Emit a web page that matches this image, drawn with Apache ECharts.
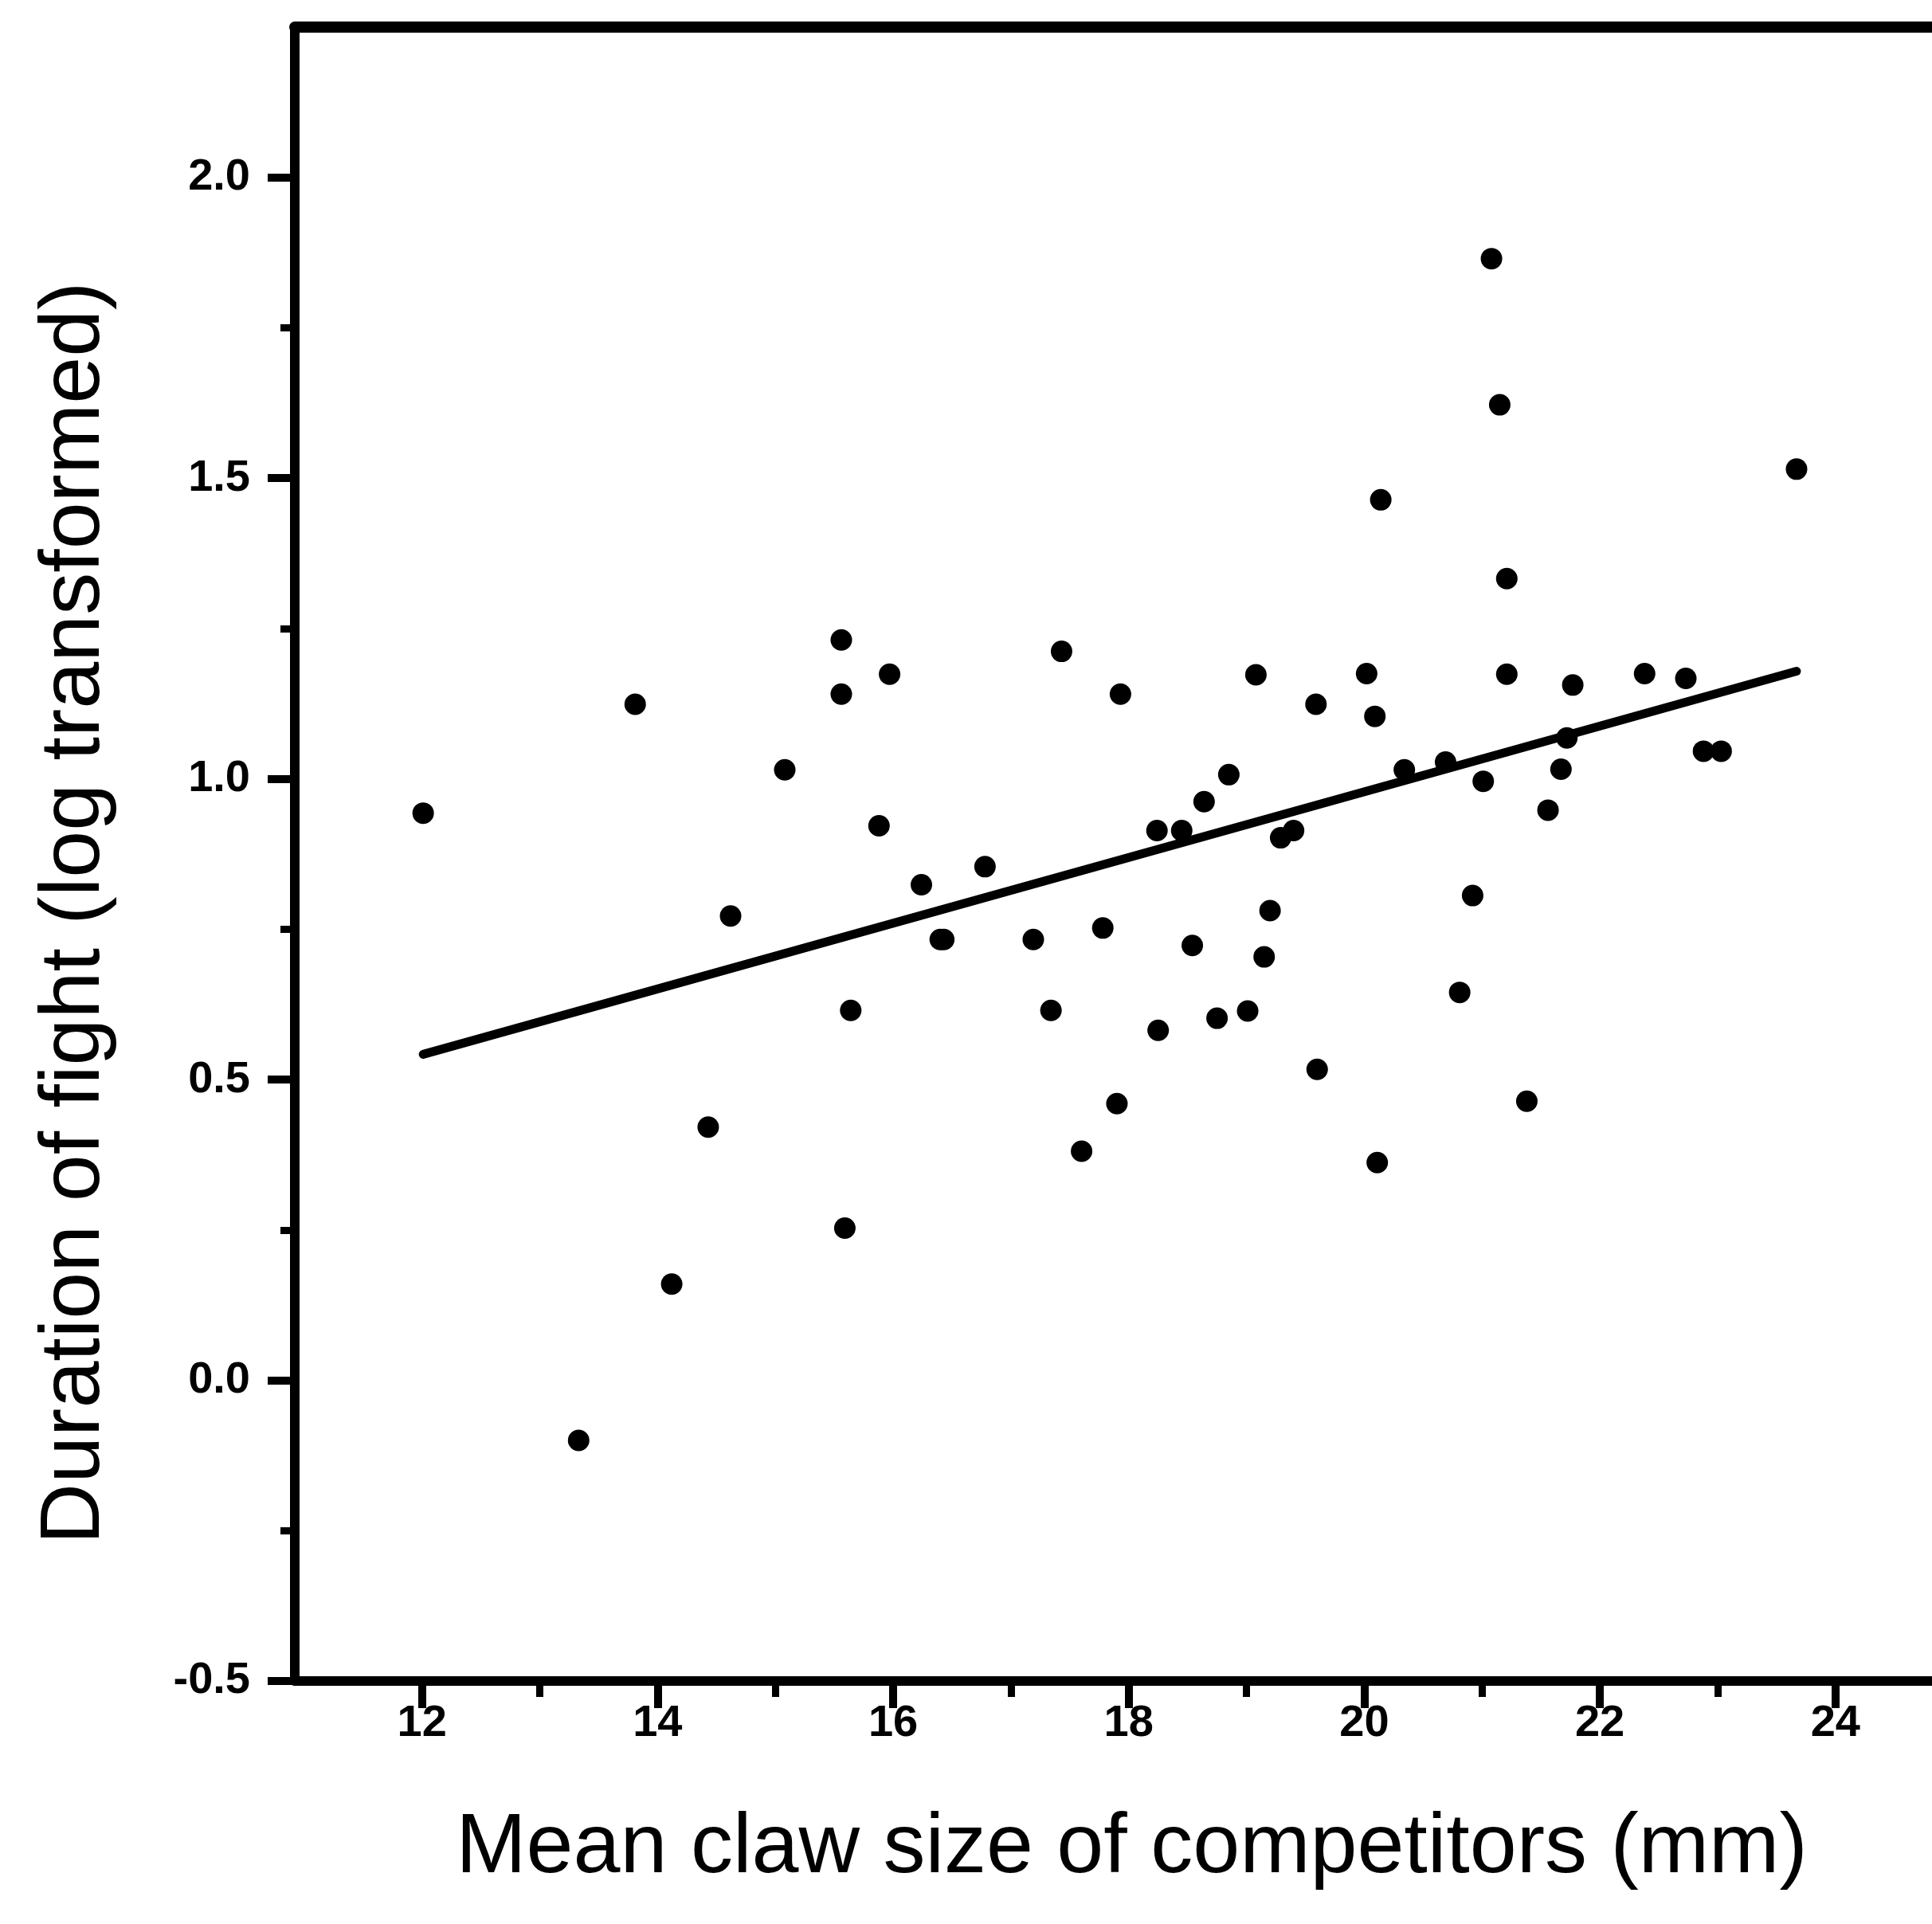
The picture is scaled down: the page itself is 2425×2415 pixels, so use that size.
<!DOCTYPE html>
<html>
<head>
<meta charset="utf-8">
<script src="https://cdn.jsdelivr.net/npm/echarts@6/dist/echarts.min.js"></script>
<style>
  html, body { margin: 0; padding: 0; background: #ffffff; }
  #chart { width: 2425px; height: 2415px; }
</style>
</head>
<body>
<div id="chart"></div>
<script>
// Data
const clawSize = [12.01, 13.33, 13.81, 14.12, 14.43, 14.62, 15.08, 15.56, 15.56, 15.59, 15.64, 15.88, 15.97, 16.24, 16.40, 16.43, 16.78, 17.19, 17.34, 17.43, 17.60, 17.78, 17.93, 17.90, 18.24, 18.25, 18.45, 18.54, 18.64, 18.75, 18.85, 19.01, 19.08, 19.15, 19.20, 19.29, 19.40, 19.59, 19.60, 20.02, 20.09, 20.11, 20.14, 20.34, 20.69, 20.81, 20.92, 21.01, 21.08, 21.15, 21.21, 21.21, 21.38, 21.56, 21.67, 21.72, 21.77, 22.38, 22.73, 22.88, 23.03, 23.67];
const fightDuration = [0.943, -0.100, 1.124, 0.160, 0.421, 0.772, 1.015, 1.231, 1.141, 0.253, 0.615, 0.922, 1.174, 0.824, 0.733, 0.733, 0.854, 0.733, 0.615, 1.212, 0.381, 0.752, 1.141, 0.460, 0.914, 0.582, 0.914, 0.723, 0.962, 0.602, 1.007, 0.614, 1.173, 0.704, 0.781, 0.902, 0.914, 1.124, 0.517, 1.175, 1.104, 0.362, 1.464, 1.015, 1.028, 0.645, 0.806, 0.996, 1.865, 1.622, 1.333, 1.174, 0.464, 0.948, 1.016, 1.068, 1.156, 1.175, 1.167, 1.046, 1.046, 1.515];

// Fitted line end points
const fitLineX = [12.01, 23.67];
const fitLineY = [0.542, 1.179];

// Axis ticks
const xMajorTicks = [12, 14, 16, 18, 20, 22, 24];
const xMinorTicks = [13, 15, 17, 19, 21, 23];
const yMajorTicks = [-0.5, 0.0, 0.5, 1.0, 1.5, 2.0];
const yMinorTicks = [-0.25, 0.25, 0.75, 1.25, 1.75];

const xTitle = 'Mean claw size of competitors (mm)';
const yTitle = 'Duration of fight (log transformed)';

const scatterData = clawSize.map((x, i) => [x, fightDuration[i]]);
const lineData = fitLineX.map((x, i) => [x, fitLineY[i]]);

const FONT = '"Liberation Sans", Arial, sans-serif';
// visible window of the (cropped) original plot
const X_MIN = 10.92, X_MAX = 24.82, Y_MIN = -0.5, Y_MAX = 2.25;

const chart = echarts.init(document.getElementById('chart'), null, { renderer: 'canvas' });
chart.setOption({
  backgroundColor: '#ffffff',
  animation: false,
  grid: {
    left: 370, top: 34, right: 0, bottom: 305,
    show: false
  },
  xAxis: [
    {
      type: 'value', min: X_MIN, max: X_MAX, position: 'bottom',
      axisLine: { show: true, onZero: false, lineStyle: { color: '#000', width: 12 } },
      axisTick: { show: true, inside: false, length: 34, customValues: xMajorTicks, lineStyle: { color: '#000', width: 10 } },
      axisLabel: {
        show: true, customValues: xMajorTicks, margin: 26,
        fontFamily: FONT, fontWeight: 'bold', fontSize: 56, color: '#000',
        formatter: v => String(v)
      },
      splitLine: { show: false },
      name: xTitle, nameLocation: 'middle', nameGap: 158,
      nameTextStyle: { fontFamily: FONT, fontSize: 106, color: '#000', padding: [0, 0, 0, 46] }
    },
    {
      type: 'value', min: X_MIN, max: X_MAX, position: 'bottom',
      axisLine: { show: false, onZero: false },
      axisTick: { show: true, inside: false, length: 20, customValues: xMinorTicks, lineStyle: { color: '#000', width: 9 } },
      axisLabel: { show: false },
      splitLine: { show: false }
    },
    {
      type: 'value', min: X_MIN, max: X_MAX, position: 'top',
      axisLine: { show: true, onZero: false, lineStyle: { color: '#000', width: 14 } },
      axisTick: { show: false },
      axisLabel: { show: false },
      splitLine: { show: false }
    }
  ],
  yAxis: [
    {
      type: 'value', min: Y_MIN, max: Y_MAX, position: 'left',
      axisLine: { show: true, onZero: false, lineStyle: { color: '#000', width: 12 } },
      axisTick: { show: true, inside: false, length: 34, customValues: yMajorTicks, lineStyle: { color: '#000', width: 10 } },
      axisLabel: {
        show: true, customValues: yMajorTicks, margin: 56,
        fontFamily: FONT, fontWeight: 'bold', fontSize: 56, color: '#000',
        formatter: v => Number(v).toFixed(1)
      },
      splitLine: { show: false },
      name: yTitle, nameLocation: 'middle', nameGap: 222, nameRotate: 90,
      nameTextStyle: { fontFamily: FONT, fontSize: 106, color: '#000', padding: [0, 148, 0, 0] }
    },
    {
      type: 'value', min: Y_MIN, max: Y_MAX, position: 'left',
      axisLine: { show: false, onZero: false },
      axisTick: { show: true, inside: false, length: 18, customValues: yMinorTicks, lineStyle: { color: '#000', width: 9 } },
      axisLabel: { show: false },
      splitLine: { show: false }
    }
  ],
  series: [
    {
      type: 'line', xAxisIndex: 0, yAxisIndex: 0,
      data: lineData, symbol: 'none', silent: true,
      lineStyle: { color: '#000', width: 11, cap: 'round' },
      z: 3
    },
    {
      type: 'scatter', xAxisIndex: 0, yAxisIndex: 0,
      data: scatterData, symbol: 'circle', symbolSize: 27,
      itemStyle: { color: '#000', opacity: 1 },
      z: 4
    }
  ]
});
</script>
</body>
</html>
